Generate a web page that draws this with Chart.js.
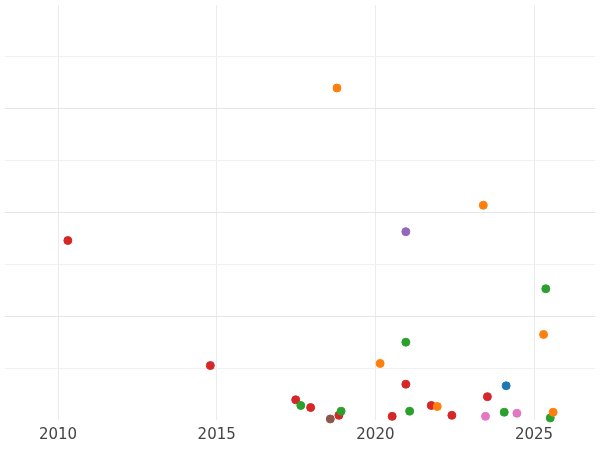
<!DOCTYPE html>
<html><head><meta charset="utf-8">
<script src="https://cdn.jsdelivr.net/npm/chart.js@4/dist/chart.umd.min.js"></script>
<style>html,body{margin:0;padding:0;background:#fff}#w{width:600px;height:450px}</style>
</head><body><div id="w"><canvas id="c"></canvas></div>
<script>
const xTicks=[2010,2015,2020,2025];
const blueX=[2024.12], blueY=[0.66];
const orangeX=[2018.79,2023.4,2025.3,2020.15,2021.95,2025.6], orangeY=[6.40,4.14,1.65,1.09,0.26,0.15];
const greenX=[2025.37,2020.96,2017.65,2018.92,2021.08,2024.06,2025.51], greenY=[2.53,1.50,0.28,0.17,0.17,0.15,0.04];
const redX=[2010.31,2014.8,2020.96,2023.53,2017.49,2017.96,2018.85,2020.53,2021.76,2022.41], redY=[3.46,1.05,0.69,0.45,0.39,0.24,0.09,0.07,0.28,0.09];
const purpleX=[2020.96], purpleY=[3.63];
const brownX=[2018.58], brownY=[0.02];
const pinkX=[2023.47,2024.46], pinkY=[0.07,0.13];
function pts(xs,ys){return xs.map((x,i)=>({x:x,y:ys[i]}));}
const groups=[[blueX,blueY,'#1f77b4'],[orangeX,orangeY,'#ff7f0e'],[greenX,greenY,'#2ca02c'],[redX,redY,'#d62728'],[purpleX,purpleY,'#9467bd'],[brownX,brownY,'#8c564b'],[pinkX,pinkY,'#e377c2']];
new Chart(document.getElementById('c'),{type:'scatter',
data:{datasets:groups.map(g=>({data:pts(g[0],g[1]),backgroundColor:g[2],borderColor:g[2],pointRadius:4,pointHoverRadius:4,clip:false}))},
options:{responsive:true,maintainAspectRatio:false,animation:false,layout:{padding:{left:-5,right:-5,top:-5,bottom:0}},
plugins:{legend:{display:false},tooltip:{enabled:false}},
scales:{
x:{type:'linear',min:2008.33,max:2026.92,afterBuildTicks:a=>{a.ticks=xTicks.map(v=>({value:v}));},
 ticks:{color:'#444',font:{family:'DejaVu Sans',size:15},padding:6,maxRotation:0,callback:v=>String(v)},
 grid:{color:'#ebebeb',drawTicks:false},border:{display:false}},
y:{min:0,max:8,afterBuildTicks:a=>{a.ticks=[1,2,3,4,5,6,7].map(v=>({value:v}));},
 ticks:{display:false},grid:{color:(c)=>c.tick&&c.tick.value%2===0?'#e6e6e6':'#f0f0f0',drawTicks:false},border:{display:false}}
}}});
</script></body></html>
